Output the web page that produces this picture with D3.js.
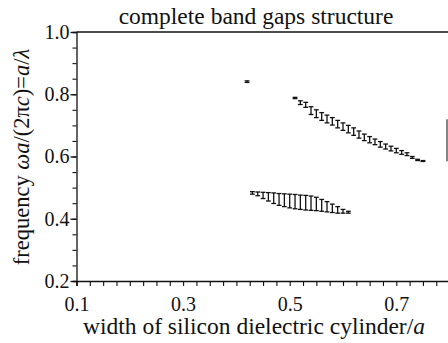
<!DOCTYPE html>
<html>
<head>
<meta charset="utf-8">
<script src="https://cdn.jsdelivr.net/npm/d3@7"></script>
<style>
  body { margin: 0; background: #fff; }
  svg { display: block; }
  .axis path, .axis line { stroke: #111; }
  text { font-family: "Liberation Serif", "DejaVu Serif", serif; fill: #111; }
</style>
</head>
<body>
<div id="chart"></div>
<script>
// band edges (width/a, upper and lower frequency)
const upperX  = [0.51, 0.52, 0.53, 0.54, 0.55, 0.56, 0.57, 0.58, 0.59, 0.60, 0.61, 0.62, 0.63,
                 0.64, 0.65, 0.66, 0.67, 0.68, 0.69, 0.70, 0.71, 0.72, 0.73, 0.74, 0.75];
const upperHi = [0.790, 0.779, 0.774, 0.760, 0.750, 0.741, 0.733, 0.725, 0.716, 0.708, 0.700, 0.692, 0.682,
                 0.672, 0.664, 0.656, 0.648, 0.640, 0.633, 0.626, 0.619, 0.612, 0.600, 0.591, 0.587];
const upperLo = [0.786, 0.767, 0.758, 0.735, 0.725, 0.716, 0.708, 0.701, 0.692, 0.684, 0.676, 0.668, 0.659,
                 0.651, 0.644, 0.638, 0.630, 0.624, 0.618, 0.612, 0.607, 0.603, 0.594, 0.587, 0.584];

const lowerX  = [0.43, 0.44, 0.45, 0.46, 0.47, 0.48, 0.49, 0.50, 0.51, 0.52, 0.53, 0.54, 0.55,
                 0.56, 0.57, 0.58, 0.59, 0.60, 0.61];
const lowerHi = [0.487, 0.486, 0.485, 0.484, 0.483, 0.481, 0.480, 0.479, 0.478, 0.476, 0.475, 0.473, 0.469,
                 0.462, 0.455, 0.447, 0.439, 0.430, 0.424];
const lowerLo = [0.479, 0.474, 0.465, 0.457, 0.449, 0.443, 0.439, 0.435, 0.432, 0.430, 0.428, 0.427, 0.426,
                 0.424, 0.422, 0.420, 0.418, 0.418, 0.418];

// single isolated gap point
const lonePoint = { x: 0.42, hi: 0.843, lo: 0.838 };

const xLabelTicks = [0.1, 0.3, 0.5, 0.7];
const yLabelTicks = [0.2, 0.4, 0.6, 0.8, 1.0];

const svgWidth = 448, svgHeight = 343;
const svg = d3.select("#chart").append("svg")
    .attr("width", svgWidth)
    .attr("height", svgHeight);

const x = d3.scaleLinear().domain([0.1, 0.8]).range([76.5, 449.6]);
const y = d3.scaleLinear().domain([0.2, 1.0]).range([281, 32]);

// minor ticks every 0.025 on x, every 0.05 on y
const xMinor = d3.range(0, 29).map(i => +(0.1 + i * 0.025).toFixed(3));
const yMinor = d3.range(0, 17).map(i => +(0.2 + i * 0.05).toFixed(3));

svg.append("g")
    .attr("class", "axis")
    .attr("transform", `translate(0, ${y(0.2)})`)
    .call(d3.axisBottom(x).tickValues(xMinor).tickSize(5).tickFormat(""))
    .call(g => g.select(".domain").attr("stroke-width", 1.6))
    .call(g => g.selectAll(".tick line").attr("stroke-width", 1.1));

svg.append("g")
    .attr("class", "axis")
    .attr("transform", `translate(0, ${y(0.2)})`)
    .call(d3.axisBottom(x).tickValues(xLabelTicks).tickSize(0).tickPadding(16).tickFormat(d3.format(".1f")))
    .call(g => g.select(".domain").remove())
    .call(g => g.selectAll("text").style("font-size", "20px").style("font-family", "Liberation Serif"));

svg.append("g")
    .attr("class", "axis")
    .attr("transform", `translate(${x(0.1)}, 0)`)
    .call(d3.axisLeft(y).tickValues(yMinor).tickSize(4).tickFormat(""))
    .call(g => g.select(".domain").attr("stroke-width", 1.3))
    .call(g => g.selectAll(".tick line").attr("stroke-width", 1.1));

svg.append("g")
    .attr("class", "axis")
    .attr("transform", `translate(${x(0.1)}, 0)`)
    .call(d3.axisLeft(y).tickValues(yLabelTicks).tickSize(6).tickPadding(1).tickFormat(d3.format(".1f")))
    .call(g => g.select(".domain").remove())
    .call(g => g.selectAll(".tick line").attr("stroke-width", 1.3))
    .call(g => g.selectAll("text").style("font-size", "20px").style("font-family", "Liberation Serif"));

// top frame and the bit of right frame that shows
svg.append("line")
    .attr("x1", x(0.1)).attr("x2", svgWidth)
    .attr("y1", y(1.0)).attr("y2", y(1.0))
    .attr("stroke", "#111").attr("stroke-width", 1.4);
svg.append("line")
    .attr("x1", 447).attr("x2", 447)
    .attr("y1", y(0.72)).attr("y2", y(0.585))
    .attr("stroke", "#333").attr("stroke-width", 1.2);

// the gap bars
const upper = upperX.map((d, i) => ({ x: d, hi: upperHi[i], lo: upperLo[i] }));
const lower = lowerX.map((d, i) => ({ x: d, hi: lowerHi[i], lo: lowerLo[i] }));
const allBars = upper.concat(lower, [lonePoint]);

const capW = 2.4;
const bars = svg.append("g")
    .attr("stroke", "#111")
    .attr("stroke-width", 1.3)
    .selectAll("g")
    .data(allBars)
    .enter().append("g");

bars.append("line")
    .attr("x1", d => x(d.x)).attr("x2", d => x(d.x))
    .attr("y1", d => y(d.hi)).attr("y2", d => y(d.lo));
bars.append("line")
    .attr("x1", d => x(d.x) - capW).attr("x2", d => x(d.x) + capW)
    .attr("y1", d => y(d.hi)).attr("y2", d => y(d.hi));
bars.append("line")
    .attr("x1", d => x(d.x) - capW).attr("x2", d => x(d.x) + capW)
    .attr("y1", d => y(d.lo)).attr("y2", d => y(d.lo));

// title
svg.append("text")
    .attr("x", 256)
    .attr("y", 24)
    .attr("text-anchor", "middle")
    .style("font-size", "23.5px")
    .text("complete band gaps structure");

// x label
const xl = svg.append("text")
    .attr("x", 254)
    .attr("y", 334)
    .attr("text-anchor", "middle")
    .style("font-size", "23.5px");
xl.append("tspan").text("width of silicon dielectric cylinder/");
xl.append("tspan").style("font-style", "italic").text("a");

// y label
const yl = svg.append("text")
    .attr("transform", "translate(29, 157) rotate(-90)")
    .attr("text-anchor", "middle")
    .style("font-size", "22.5px");
yl.append("tspan").text("frequency ");
yl.append("tspan").style("font-style", "italic").text("ωa");
yl.append("tspan").text("/(2π");
yl.append("tspan").style("font-style", "italic").text("c");
yl.append("tspan").text(")=");
yl.append("tspan").style("font-style", "italic").text("a");
yl.append("tspan").text("/");
yl.append("tspan").style("font-style", "italic").text("λ");
</script>
</body>
</html>
